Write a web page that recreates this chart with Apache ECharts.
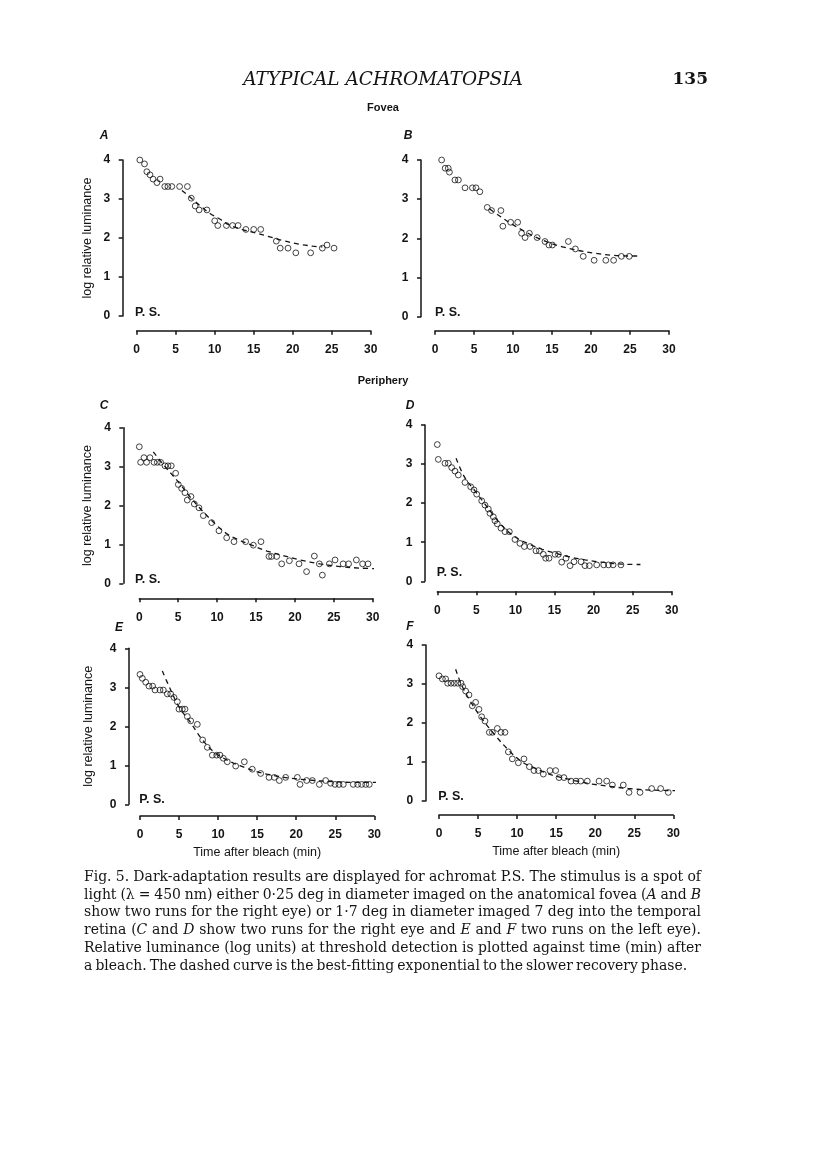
<!DOCTYPE html>
<html><head><meta charset="utf-8">
<script src="https://cdn.jsdelivr.net/npm/echarts@6/dist/echarts.min.js"></script>
<style>html,body{margin:0;padding:0;background:#fff}#c{width:816px;height:1170px}</style>
</head><body><div id="c"></div>
<script>
// ---------------- data ----------------
const panelLetters = ['A', 'B', 'C', 'D', 'E', 'F'];
const xTickLabels = ['0', '5', '10', '15', '20', '25', '30'];
const yTickLabels = ['0', '1', '2', '3', '4'];

const timeA = [0.4,1.0,1.3,1.7,2.1,2.6,3.0,3.6,4.0,4.5,5.5,6.5,7.0,7.5,8.0,9.0,10.0,10.4,11.5,12.3,13.0,14.0,15.0,15.9,17.9,18.4,19.4,20.4,22.3,23.8,24.4,25.3];
const lumA  = [4.0,3.9,3.7,3.62,3.51,3.42,3.51,3.32,3.32,3.32,3.32,3.32,3.02,2.82,2.72,2.72,2.44,2.32,2.32,2.32,2.32,2.22,2.22,2.22,1.92,1.74,1.74,1.62,1.62,1.74,1.82,1.74];
const fitTimeA = [5.8,7.0,8.3,9.4,10.7,11.8,13.3,15.4,16.7,18.8,20.9,22.6,23.8];
const fitLumA  = [3.22,3.02,2.8,2.63,2.48,2.34,2.23,2.12,2.05,1.93,1.84,1.79,1.77];

const timeB = [0.85,1.3,1.7,1.85,2.55,3.0,3.85,4.8,5.25,5.75,6.7,7.25,8.45,8.7,9.7,10.6,11.1,11.55,12.1,13.1,14.1,14.6,15.05,17.1,18.0,19.0,20.4,21.9,22.9,23.9,24.9];
const lumB  = [4.0,3.79,3.79,3.69,3.49,3.49,3.29,3.29,3.29,3.19,2.79,2.71,2.71,2.31,2.41,2.41,2.13,2.02,2.13,2.02,1.92,1.83,1.83,1.92,1.73,1.54,1.44,1.44,1.44,1.54,1.54];
const fitTimeB = [7.0,8.5,9.8,11.3,12.8,14.5,16.2,18.4,20.5,22.6,24.8,26.1];
const fitLumB  = [2.75,2.54,2.37,2.2,2.04,1.9,1.79,1.69,1.62,1.57,1.55,1.55];

const timeC = [0,0.17,0.6,0.94,1.37,1.89,2.31,2.74,3.3,3.69,4.11,4.67,5.01,5.44,5.87,6.17,6.64,7.07,7.67,8.23,9.3,10.24,11.23,12.17,13.67,14.66,15.64,16.67,17.0,17.66,18.3,19.29,20.53,21.5,22.5,23.14,23.53,24.43,25.16,26.2,26.9,27.9,28.7,29.4];
const lumC  = [3.51,3.11,3.23,3.11,3.23,3.11,3.11,3.11,3.02,3.02,3.02,2.83,2.54,2.44,2.33,2.14,2.23,2.04,1.94,1.74,1.56,1.35,1.17,1.07,1.07,0.98,1.07,0.69,0.69,0.69,0.5,0.58,0.5,0.3,0.7,0.5,0.21,0.5,0.6,0.5,0.5,0.6,0.5,0.5];
const fitTimeC = [1.8,3.3,5.0,6.5,8.2,9.9,11.2,12.5,14.7,16.4,18.5,20.7,23.2,25.8,28.4,31.6];
const fitLumC  = [3.38,3.0,2.61,2.23,1.84,1.5,1.28,1.14,0.96,0.83,0.71,0.6,0.5,0.43,0.39,0.37];

const timeD = [0,0.13,0.98,1.41,1.84,2.26,2.69,3.54,4.27,4.69,5.04,5.68,6.1,6.53,6.74,7.17,7.38,7.68,8.15,8.66,9.22,9.94,10.58,11.14,11.87,12.63,13.06,13.57,13.87,14.3,15.07,15.5,15.92,16.47,16.99,17.5,18.4,18.9,19.46,20.4,21.3,21.9,22.5,23.5];
const lumD  = [3.5,3.12,3.02,3.02,2.91,2.82,2.72,2.53,2.42,2.34,2.23,2.06,1.95,1.85,1.74,1.65,1.55,1.47,1.36,1.27,1.27,1.07,0.97,0.89,0.89,0.78,0.78,0.69,0.59,0.59,0.69,0.69,0.49,0.59,0.4,0.5,0.5,0.4,0.4,0.42,0.42,0.42,0.42,0.42];
const fitTimeD = [2.4,3.5,4.8,6.5,8.2,9.9,11.65,13.4,15.1,16.8,18.9,21.0,23.6,26.0];
const fitLumD  = [3.15,2.66,2.32,1.87,1.44,1.14,0.96,0.82,0.72,0.63,0.55,0.49,0.44,0.43];

const timeE = [0,0.3,0.73,1.15,1.62,1.92,2.56,2.99,3.5,3.93,4.35,4.78,4.99,5.42,5.76,6.06,6.49,7.34,8.02,8.62,9.26,9.82,10.24,10.67,11.18,12.25,13.36,14.38,15.45,16.52,17.2,17.84,18.65,20.15,20.49,21.34,22.07,22.96,23.77,24.41,24.97,25.48,26.03,27.3,27.87,28.38,28.9,29.36];
const lumE  = [3.33,3.23,3.13,3.03,3.03,2.93,2.93,2.93,2.83,2.83,2.74,2.63,2.44,2.44,2.44,2.25,2.14,2.05,1.65,1.46,1.26,1.26,1.26,1.18,1.09,0.98,1.09,0.9,0.79,0.69,0.69,0.61,0.69,0.69,0.51,0.61,0.61,0.51,0.61,0.54,0.51,0.51,0.51,0.51,0.51,0.51,0.51,0.51];
const fitTimeE = [2.86,3.84,5.1,6.4,7.7,9.4,11.1,12.8,14.9,17.1,19.2,21.8,24.75,27.7,31.2];
const fitLumE  = [3.42,2.97,2.46,2.12,1.73,1.35,1.14,0.99,0.84,0.74,0.67,0.62,0.58,0.56,0.56];

const timeF = [0,0.43,0.85,1.11,1.54,1.96,2.39,2.82,3.03,3.41,3.84,4.27,4.69,5.12,5.46,5.89,6.44,6.83,7.47,7.94,8.45,8.88,9.39,10.16,10.88,11.57,12.16,12.72,13.36,14.21,14.94,15.37,16.0,16.9,17.54,18.14,18.99,20.49,21.47,22.2,23.6,24.33,25.74,27.23,28.38,29.36];
const lumF  = [3.21,3.13,3.13,3.02,3.02,3.02,3.02,3.02,2.93,2.82,2.72,2.44,2.53,2.35,2.16,2.05,1.76,1.76,1.86,1.76,1.76,1.26,1.08,0.98,1.08,0.88,0.78,0.78,0.69,0.78,0.78,0.6,0.6,0.51,0.51,0.51,0.51,0.51,0.51,0.41,0.41,0.22,0.22,0.32,0.32,0.22];
const fitTimeF = [2.13,2.9,4.18,5.46,7.17,8.88,10.58,12.3,14.4,16.56,19.1,21.7,24.2,27.2,31.3];
const fitLumF  = [3.38,2.97,2.5,2.12,1.69,1.31,1.01,0.84,0.67,0.56,0.45,0.38,0.32,0.28,0.26];

const subjectLabel = 'P. S.';
const yAxisTitle = 'log relative luminance';
const xAxisTitle = 'Time after bleach (min)';
const runningHead = 'ATYPICAL ACHROMATOPSIA';
const pageNumber = '135';
const sectionTitles = ['Fovea', 'Periphery'];
const captionLines = [
  'Fig. 5. Dark-adaptation results are displayed for achromat P.S. The stimulus is a spot of',
  'light (\u03bb = 450 nm) either 0\u00b725 deg in diameter imaged on the anatomical fovea (_A_ and _B_',
  'show two runs for the right eye) or 1\u00b77 deg in diameter imaged 7 deg into the temporal',
  'retina (_C_ and _D_ show two runs for the right eye and _E_ and _F_ two runs on the left eye).',
  'Relative luminance (log units) at threshold detection is plotted against time (min) after',
  'a bleach. The dashed curve is the best-fitting exponential to the slower recovery phase.'
];

// ---------------- layout (pixels) ----------------
const seriesSets = [
  [timeA, lumA, fitTimeA, fitLumA],
  [timeB, lumB, fitTimeB, fitLumB],
  [timeC, lumC, fitTimeC, fitLumC],
  [timeD, lumD, fitTimeD, fitLumD],
  [timeE, lumE, fitTimeE, fitLumE],
  [timeF, lumF, fitTimeF, fitLumF]
];
const layout = [
  {left:136.7, top:160,   w:234,   h:156,   yOff:14,   xOff:14.7, yName:true,  yGap:29, xName:false, letter:[104,136], ps:[135,312.7]},
  {left:435,   top:160,   w:234,   h:156.7, yOff:14,   xOff:14,   yName:false, yGap:29, xName:false, letter:[408,136], ps:[435,312.7]},
  {left:139.3, top:427.7, w:233.4, h:155.6, yOff:16,   xOff:15,   yName:true,  yGap:29, xName:false, letter:[104,406], ps:[135,580]},
  {left:437.3, top:425,   w:234.4, h:156.3, yOff:12.3, xOff:10,   yName:false, yGap:29, xName:false, letter:[410,406], ps:[436.7,573]},
  {left:140,   top:648.3, w:234.3, h:156,   yOff:11,   xOff:11.7, yName:true,  yGap:34, xName:true,  letter:[119,628], ps:[139.3,800]},
  {left:439,   top:645,   w:234.3, h:156,   yOff:13.3, xOff:14,   yName:false, yGap:29, xName:true,  letter:[410,627], ps:[438.3,797]}
];

const INK = '#141414';
const SANS = '"Liberation Sans", Arial, sans-serif';
const SERIF = '"DejaVu Serif", serif';

const grids = [], xAxes = [], yAxes = [], series = [], graphics = [];

layout.forEach((L, i) => {
  grids.push({left: L.left, top: L.top, width: L.w, height: L.h, containLabel: false});
  xAxes.push({
    type: 'value', gridIndex: i, min: 0, max: 30, interval: 5, position: 'bottom', offset: L.xOff,
    axisLine: {show: true, onZero: false, lineStyle: {color: INK, width: 1.5}},
    axisTick: {show: true, length: 4, lineStyle: {color: INK, width: 1.5}},
    axisLabel: {margin: 13, color: INK, fontFamily: SANS, fontWeight: 'bold', fontSize: 12,
      formatter: v => xTickLabels[Math.round(v / 5)]},
    splitLine: {show: false},
    name: L.xName ? xAxisTitle : '', nameLocation: 'middle', nameGap: 30,
    nameTextStyle: {color: INK, fontFamily: SANS, fontSize: 12.5}
  });
  yAxes.push({
    type: 'value', gridIndex: i, min: 0, max: 4, interval: 1, position: 'left', offset: L.yOff,
    axisLine: {show: true, onZero: false, lineStyle: {color: INK, width: 1.5}},
    axisTick: {show: true, length: 4, lineStyle: {color: INK, width: 1.5}},
    axisLabel: {margin: 12.5, color: INK, fontFamily: SANS, fontWeight: 'bold', fontSize: 12,
      formatter: v => yTickLabels[Math.round(v)]},
    splitLine: {show: false},
    name: L.yName ? yAxisTitle : '', nameLocation: 'middle', nameGap: L.yGap, nameRotate: 90,
    nameTextStyle: {color: INK, fontFamily: SANS, fontSize: 12.5}
  });
  const [tt, ll, ft, fl] = seriesSets[i];
  series.push({
    type: 'line', xAxisIndex: i, yAxisIndex: i, z: 2, clip: false, silent: true,
    data: ft.map((t, k) => [t, fl[k]]), showSymbol: false, symbol: 'none', smooth: 0.35,
    lineStyle: {color: INK, width: 1.3, type: [5, 4]}
  });
  series.push({
    type: 'scatter', xAxisIndex: i, yAxisIndex: i, z: 3, silent: true,
    data: tt.map((t, k) => [t, ll[k]]), symbol: 'circle', symbolSize: 5.8,
    itemStyle: {color: 'rgba(255,255,255,0)', borderColor: INK, borderWidth: 1}
  });
  graphics.push({type: 'text', x: L.letter[0], y: L.letter[1],
    style: {text: panelLetters[i], fill: INK, font: 'italic bold 12px ' + SANS, align: 'center', verticalAlign: 'middle'}});
  graphics.push({type: 'text', x: L.ps[0], y: L.ps[1],
    style: {text: subjectLabel, fill: INK, font: 'bold 12.5px ' + SANS, align: 'left', verticalAlign: 'middle'}});
});

// headers
graphics.push({type: 'text', x: 383, y: 80,
  style: {text: runningHead, fill: INK, font: 'italic 18.5px ' + SERIF, align: 'center', verticalAlign: 'middle'}});
graphics.push({type: 'text', x: 708, y: 80,
  style: {text: pageNumber, fill: INK, font: 'bold 17px ' + SERIF, align: 'right', verticalAlign: 'middle'}});
graphics.push({type: 'text', x: 383, y: 108,
  style: {text: sectionTitles[0], fill: INK, font: 'bold 11px ' + SANS, align: 'center', verticalAlign: 'middle'}});
graphics.push({type: 'text', x: 383, y: 381,
  style: {text: sectionTitles[1], fill: INK, font: 'bold 11px ' + SANS, align: 'center', verticalAlign: 'middle'}});

// caption: justified lines
(function () {
  const ctx = document.createElement('canvas').getContext('2d');
  const capLeft = 84, capRight = 701, lastRight = 666, y0 = 877, lh = 17.9;
  const parse = line => line.split(' ').map(w => w.split('_').map((p, j) => ({t: p, it: j % 2 === 1})).filter(p => p.t.length));
  const fontOf = (sz, it) => (it ? 'italic ' : '') + sz + 'px ' + SERIF;
  const measure = (sz, parts) => parts.reduce((s, p) => { ctx.font = fontOf(sz, p.it); return s + ctx.measureText(p.t).width; }, 0);
  const parsed = captionLines.map(parse);
  // font size: the tightest justified line gets word gaps of 0.28em
  let size = 20;
  parsed.slice(0, -1).forEach(words => {
    const w1 = words.reduce((s, w) => s + measure(10, w), 0) / 10;
    const s = (capRight - capLeft) / (w1 + 0.28 * (words.length - 1));
    size = Math.min(size, s);
  });
  size = +size.toFixed(2);
  parsed.forEach((words, li) => {
    const widths = words.map(w => measure(size, w));
    const total = widths.reduce((a, b) => a + b, 0);
    const right = li === parsed.length - 1 ? lastRight : capRight;
    let gap = (right - capLeft - total) / (words.length - 1);
    if (li === parsed.length - 1) gap = Math.max(0.22 * size, Math.min(0.4 * size, gap));
    let x = capLeft;
    const y = y0 + li * lh;
    words.forEach(w => {
      w.forEach(p => {
        graphics.push({type: 'text', x: x, y: y,
          style: {text: p.t, fill: INK, font: fontOf(size, p.it), align: 'left', verticalAlign: 'middle'}});
        ctx.font = fontOf(size, p.it);
        x += ctx.measureText(p.t).width;
      });
      x += gap;
    });
  });
})();

const chart = echarts.init(document.getElementById('c'), null, {renderer: 'canvas'});
chart.setOption({
  animation: false,
  backgroundColor: '#fff',
  grid: grids, xAxis: xAxes, yAxis: yAxes, series: series, graphic: graphics
});
</script>
</body></html>
